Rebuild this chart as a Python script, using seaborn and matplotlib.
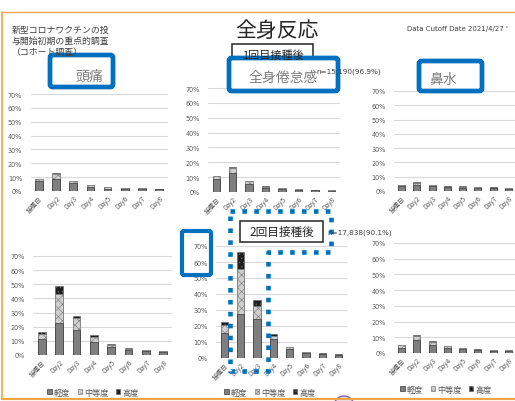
import matplotlib
matplotlib.use("Agg")
import matplotlib.pyplot as plt
import seaborn as sns
import pandas as pd
from matplotlib.patches import Rectangle, FancyBboxPatch, Patch, Circle
from matplotlib.lines import Line2D

# ---------------- data ----------------
days = ["接種日", "Day2", "Day3", "Day4", "Day5", "Day6", "Day7", "Day8"]
yticks = [0, 10, 20, 30, 40, 50, 60, 70]
severity_labels = ["軽度", "中等度", "高度"]

# 1回目接種後
headache1_mild = [7.0, 9.0, 5.5, 3.0, 1.8, 1.5, 1.4, 1.2]
headache1_mod = [1.4, 3.0, 1.4, 1.2, 0.8, 0.6, 0.5, 0.4]
headache1_sev = [0.4, 0.8, 0.3, 0.3, 0.2, 0.1, 0.1, 0.1]

fatigue1_mild = [9.0, 13.0, 5.5, 2.6, 1.7, 1.4, 1.1, 1.0]
fatigue1_mod = [1.6, 3.0, 1.8, 1.0, 0.7, 0.5, 0.35, 0.35]
fatigue1_sev = [0.4, 0.6, 0.3, 0.2, 0.1, 0.1, 0.05, 0.05]

rhinorrhea1_mild = [3.3, 4.4, 3.3, 2.5, 2.4, 2.0, 1.9, 1.7]
rhinorrhea1_mod = [0.9, 1.3, 0.9, 0.6, 0.6, 0.5, 0.5, 0.5]
rhinorrhea1_sev = [0.2, 0.3, 0.2, 0.2, 0.2, 0.1, 0.1, 0.1]

# 2回目接種後
headache2_mild = [11.1, 22.4, 17.8, 8.9, 5.5, 3.3, 2.5, 1.8]
headache2_mod = [4.0, 20.9, 8.4, 4.0, 1.7, 1.2, 1.0, 0.8]
headache2_sev = [1.1, 5.6, 1.6, 0.9, 0.6, 0.4, 0.3, 0.3]

fatigue2_mild = [15.8, 27.3, 24.2, 11.7, 5.5, 3.0, 2.2, 1.7]
fatigue2_mod = [5.0, 28.1, 8.3, 2.1, 1.1, 0.7, 0.5, 0.4]
fatigue2_sev = [1.7, 11.1, 3.5, 1.0, 0.5, 0.3, 0.2, 0.2]

rhinorrhea2_mild = [3.5, 8.0, 5.2, 3.2, 2.3, 1.7, 1.4, 1.2]
rhinorrhea2_mod = [1.3, 3.0, 1.9, 1.1, 0.8, 0.5, 0.4, 0.4]
rhinorrhea2_sev = [0.3, 0.5, 0.3, 0.2, 0.1, 0.1, 0.1, 0.1]

# ---------------- style ----------------
sns.set_theme(style="white")
plt.rcParams["font.family"] = ["Noto Sans CJK JP", "DejaVu Sans"]
plt.rcParams["hatch.linewidth"] = 0.45

MILD_C = "#7F7F7F"
MOD_C = "#CFCFCF"
SEV_C = "#1E1E1E"
EDGE = "#3A3A3A"
MOD_EDGE = "#808080"
SEV_EDGE = "#6A6A6A"
TXT = "#595959"
BLUE = "#0070C0"
ORANGE = "#F3A445"

W, H = 515, 402
fig = plt.figure(figsize=(W / 100, H / 100), dpi=100)
fig.patch.set_facecolor("white")

YMAX = 70.8


def add_ax(left, right, y0, y70):
    ppu = (y0 - y70) / 70.0
    top = y0 - ppu * YMAX
    return fig.add_axes([left / W, 1 - y0 / H, (right - left) / W, (y0 - top) / H])


def draw_chart(ax, mild, mod, sev, legend_xy=None):
    mid = [a + b for a, b in zip(mild, mod)]
    tot = [a + b for a, b in zip(mid, sev)]
    df = pd.DataFrame({"day": days, "mild": mild, "mid": mid, "total": tot})
    common = dict(data=df, x="day", ax=ax, order=days, width=0.45,
                  saturation=1, errorbar=None, linewidth=0.5)
    sns.barplot(y="total", color=SEV_C, hatch="....", edgecolor=SEV_EDGE, **common)
    sns.barplot(y="mid", color=MOD_C, hatch="xxxx", edgecolor=MOD_EDGE, **common)
    sns.barplot(y="mild", color=MILD_C, edgecolor=EDGE, **common)
    ax.set_facecolor("none")
    ax.set_ylim(0, YMAX)
    ax.set_yticks(yticks)
    ax.set_yticklabels([f"{v}%" for v in yticks], fontsize=4.7, color=TXT,
                       family="DejaVu Sans")
    ax.set_xticks(range(len(days)))
    ax.set_xticklabels(days, rotation=45, ha="right", rotation_mode="anchor",
                       fontsize=4.7, color=TXT)
    ax.tick_params(axis="both", length=0)
    ax.tick_params(axis="y", pad=6)
    ax.tick_params(axis="x", pad=2)
    ax.set_xlabel("")
    ax.set_ylabel("")
    ax.grid(axis="y", color="#D9D9D9", linewidth=0.8)
    ax.set_axisbelow(True)
    for s in ax.spines.values():
        s.set_visible(False)
    if legend_xy is not None:
        handles = [
            Patch(facecolor=MILD_C, edgecolor=EDGE, linewidth=0.5, label=severity_labels[0]),
            Patch(facecolor=MOD_C, edgecolor=MOD_EDGE, hatch="xxxx", linewidth=0.5, label=severity_labels[1]),
            Patch(facecolor=SEV_C, edgecolor=SEV_EDGE, hatch="....", linewidth=0.5, label=severity_labels[2]),
        ]
        leg = ax.legend(handles=handles, loc="center",
                        bbox_to_anchor=(legend_xy[0] / W, 1 - legend_xy[1] / H),
                        bbox_transform=fig.transFigure, ncol=3, fontsize=5.9,
                        handlelength=0.55, handleheight=0.55, handletextpad=0.25,
                        columnspacing=0.9, frameon=False, borderpad=0)
        for t in leg.get_texts():
            t.set_color(TXT)


ax1 = add_ax(30.5, 167.5, 192, 95)
draw_chart(ax1, headache1_mild, headache1_mod, headache1_sev)
ax2 = add_ax(208, 339.5, 193, 89)
draw_chart(ax2, fatigue1_mild, fatigue1_mod, fatigue1_sev)
ax3 = add_ax(394, 516, 192, 92)
draw_chart(ax3, rhinorrhea1_mild, rhinorrhea1_mod, rhinorrhea1_sev)
ax4 = add_ax(33, 172, 356, 257)
draw_chart(ax4, headache2_mild, headache2_mod, headache2_sev, legend_xy=(93, 393))
ax5 = add_ax(216, 347, 359, 247)
draw_chart(ax5, fatigue2_mild, fatigue2_mod, fatigue2_sev, legend_xy=(270, 393))
ax6 = add_ax(394, 516, 354, 244)
draw_chart(ax6, rhinorrhea2_mild, rhinorrhea2_mod, rhinorrhea2_sev, legend_xy=(446, 390))

# ---------------- overlay (pixel coordinates) ----------------
ov = fig.add_axes([0, 0, 1, 1])
ov.set_xlim(0, W)
ov.set_ylim(H, 0)
ov.axis("off")
ov.set_zorder(10)
ov.patch.set_alpha(0)

# orange slide frame
ov.add_line(Line2D([2, 2], [13, 400], color=ORANGE, lw=1.2))
ov.add_line(Line2D([2, 515], [13, 13], color=ORANGE, lw=1.0))
ov.add_line(Line2D([2, 515], [400, 400], color=ORANGE, lw=1.6))

ov.text(277, 31, "全身反応", ha="center", va="center", fontsize=15, color="#262626")
ov.text(12, 30, "新型コロナワクチンの投", ha="left", va="center", fontsize=6.4, color="#404040")
ov.text(12, 41, "与開始初期の重点的調査", ha="left", va="center", fontsize=6.4, color="#404040")
ov.text(12, 52, "（コホート調査）", ha="left", va="center", fontsize=6.4, color="#404040")
ov.text(407, 29, "Data Cutoff Date 2021/4/27 '", ha="left", va="center",
        fontsize=5, color="#404040", family="DejaVu Sans")

# 1回目 box
ov.add_patch(Rectangle((232, 45), 81, 21, facecolor="white", edgecolor="#262626", lw=1.1))
ov.text(272.5, 56, "1回目接種後", ha="center", va="center", fontsize=8, color="#262626")
ov.text(316, 72, "n=15,190(96.9%)", ha="left", va="center", fontsize=5.2,
        color="#404040", family="DejaVu Sans")

# blue title boxes
for (x0, y0, x1, y1, label, tx, ty) in [
    (50, 56, 113, 88, "頭痛", 89, 77),
    (229, 59, 338, 92, "全身倦怠感", 283, 78),
    (419, 62, 482, 92, "鼻水", 443, 80),
]:
    ov.add_patch(FancyBboxPatch((x0, y0), x1 - x0, y1 - y0,
                                boxstyle="round,pad=0,rounding_size=2.5",
                                facecolor="white", edgecolor=BLUE, lw=3.4))
    ov.text(tx, ty, label, ha="center", va="center", fontsize=10, color="#7F7F7F")

# 2回目 box
ov.add_patch(Rectangle((240, 222), 83, 21, facecolor="white", edgecolor="#262626", lw=1.1))
ov.text(281.5, 232.5, "2回目接種後", ha="center", va="center", fontsize=8.4, color="#262626")
ov.text(327, 233, "n=17,838(90.1%)", ha="left", va="center", fontsize=5.2,
        color="#404040", family="DejaVu Sans")

# blue highlight around 70%/60%
ov.add_patch(FancyBboxPatch((182, 232), 29, 44, boxstyle="round,pad=0,rounding_size=2",
                            facecolor="none", edgecolor=BLUE, lw=3.0))

# dotted blue outline
px = [230, 331, 331, 268, 268, 230, 230]
py = [212, 212, 253, 253, 372, 372, 212]
ov.add_line(Line2D(px, py, color=BLUE, lw=3.3, linestyle=(0, (1, 1.6)),
                   solid_capstyle="butt", dash_capstyle="butt"))

# partial logo at bottom
ov.add_patch(Circle((344, 407), 10, facecolor="#E9E2F3", edgecolor="#7B5EA7", lw=1.0))

fig.savefig("out.png", dpi=100, facecolor="white")
